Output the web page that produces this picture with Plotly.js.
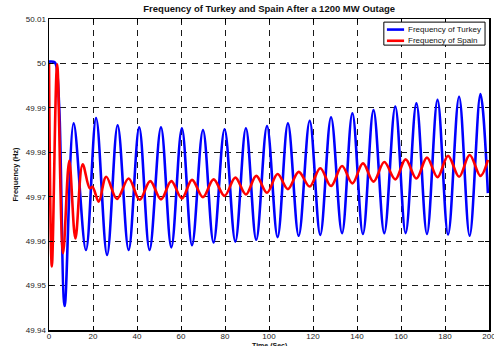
<!DOCTYPE html>
<html><head><meta charset="utf-8">
<script src="https://cdn.plot.ly/plotly-3.0.1.min.js"></script>
<style>html,body{margin:0;padding:0;background:#fff}#c{width:494px;height:346px}</style>
</head><body><div id="c"></div>
<script>
// Frequency of Turkey (blue) - extrema
const turkeyTime = [0, 2.5, 3.3, 4.7, 7.1, 11.2, 16.8, 21.4, 26.4, 31.2, 36.2, 41.0, 45.7, 50.9, 55.6,
  60.4, 65.0, 70.0, 74.8, 79.8, 84.7, 89.5, 94.2, 99.1, 103.9, 108.6, 113.5, 118.5, 123.3, 128.2, 133.2,
  137.9, 142.7, 147.5, 152.4, 157.4, 162.1, 167.0, 171.8, 176.6, 181.4, 186.4, 191.2, 196.1, 199.5];
const turkeyFreq = [50.0004, 50.0003, 49.9995, 49.9895, 49.9454, 49.9865, 49.9580, 49.9877, 49.9569, 49.9861, 49.9580, 49.9856, 49.9580, 49.9856, 49.9586,
  49.9854, 49.9591, 49.9850, 49.9597, 49.9852, 49.9599, 49.9854, 49.9603, 49.9859, 49.9609, 49.9865, 49.9612, 49.9871, 49.9614, 49.9879, 49.9618,
  49.9888, 49.9616, 49.9895, 49.9618, 49.9903, 49.9618, 49.9910, 49.9616, 49.9918, 49.9615, 49.9925, 49.9612, 49.9931, 49.9708];

// Frequency of Spain (red)
const spainTime = [0, 1.3, 3.7, 6.4, 9.2, 12.0, 15.3, 18.5, 19.8, 22.6, 26.0, 30.9, 36.2, 41.2, 46.0, 50.9, 55.6,
  60.4, 65.0, 70.0, 74.8, 79.8, 84.7, 89.5, 94.2, 99.1, 103.9, 108.6, 113.5, 118.5, 123.3, 128.2, 133.2,
  137.9, 142.7, 147.5, 152.4, 157.4, 162.1, 167.0, 171.8, 176.6, 181.4, 186.4, 191.2, 196.1, 199.5];
const spainFreq = [50.0000, 49.9543, 49.9998, 49.9573, 49.9781, 49.9606, 49.9773, 49.9719, 49.9722, 49.9689, 49.9745, 49.9695, 49.9741, 49.9693, 49.9735, 49.9694, 49.9735,
  49.9696, 49.9738, 49.9699, 49.9739, 49.9702, 49.9743, 49.9705, 49.9747, 49.9709, 49.9751, 49.9717, 49.9756, 49.9723, 49.9764, 49.9724, 49.9769,
  49.9730, 49.9775, 49.9734, 49.9778, 49.9739, 49.9784, 49.9741, 49.9788, 49.9744, 49.9792, 49.9745, 49.9794, 49.9747, 49.9783];

const seriesNames = ['Frequency of Turkey', 'Frequency of Spain'];
const seriesColors = ['#0000ff', '#ff0000'];
const yTickVals = [49.94, 49.95, 49.96, 49.97, 49.98, 49.99, 50.00, 50.01];
const yTickText = ['49.94', '49.95', '49.96', '49.97', '49.98', '49.99', '50', '50.01'];
const xTickVals = [0, 20, 40, 60, 80, 100, 120, 140, 160, 180, 200];

const FONT = 'Liberation Sans, Arial, sans-serif';

const traces = [
  {x: turkeyTime, y: turkeyFreq, name: seriesNames[0], mode: 'lines',
   line: {color: seriesColors[0], width: 2.6, shape: 'spline', smoothing: 1}},
  {x: spainTime, y: spainFreq, name: seriesNames[1], mode: 'lines',
   line: {color: seriesColors[1], width: 2.6, shape: 'spline', smoothing: 1}}
];

const axisCommon = {
  showline: true, linecolor: '#000', linewidth: 1.5, mirror: 'ticks',
  ticks: 'inside', ticklen: 4, tickcolor: '#000', tickwidth: 1,
  showgrid: true, gridcolor: '#1a1a1a', gridwidth: 1, griddash: '6px,5px',
  zeroline: false, tickfont: {family: FONT, size: 8, color: '#222'}
};

// Compact MATLAB-style legend box (top-right, inside the axes)
const legX0 = 0.761, legX1 = 0.991, legY0 = 0.916, legY1 = 0.990;
const legRowY = [0.966, 0.930];
const shapes = [
  {type: 'rect', xref: 'paper', yref: 'paper', x0: legX0, x1: legX1, y0: legY0, y1: legY1,
   line: {color: '#000', width: 1}, fillcolor: '#fff', layer: 'above'}
];
const annotations = [];
seriesNames.forEach((nm, i) => {
  shapes.push({type: 'line', xref: 'paper', yref: 'paper', x0: legX0 + 0.007, x1: legX0 + 0.046,
    y0: legRowY[i], y1: legRowY[i], line: {color: seriesColors[i], width: 2.6}, layer: 'above'});
  annotations.push({xref: 'paper', yref: 'paper', x: legX0 + 0.050, y: legRowY[i], xanchor: 'left', yanchor: 'middle',
    text: nm, showarrow: false, font: {family: FONT, size: 8, color: '#111'}});
});
// x-axis title, below the tick labels (at the window's lower edge, as in the original)
annotations.push({xref: 'paper', yref: 'paper', x: 0.5, y: 0, xanchor: 'center', yanchor: 'top', yshift: -9.5,
  text: '<b>Time (Sec)</b>', showarrow: false, font: {family: FONT, size: 7, color: '#111'}});

const layout = {
  width: 494, height: 346,
  margin: {l: 49, r: 5, t: 19, b: 16},
  paper_bgcolor: '#fff', plot_bgcolor: '#fff',
  title: {text: '<b>Frequency of Turkey and Spain After a 1200 MW Outage</b>',
    font: {family: FONT, size: 9.5, color: '#111'},
    x: 0.545, xanchor: 'center', y: 0.974, yanchor: 'middle', yref: 'container'},
  xaxis: Object.assign({}, axisCommon, {range: [0, 200], tickvals: xTickVals, ticklabelstandoff: -2,
    ticklabeloverflow: 'allow'}),
  yaxis: Object.assign({}, axisCommon, {range: [49.94, 50.01], tickvals: yTickVals, ticktext: yTickText,
    title: {text: '<b>Frequency (Hz)</b>', font: {family: FONT, size: 7.5, color: '#111'}, standoff: 6}}),
  showlegend: false,
  shapes: shapes,
  annotations: annotations
};

Plotly.newPlot('c', traces, layout, {displayModeBar: false, staticPlot: true});
</script></body></html>
